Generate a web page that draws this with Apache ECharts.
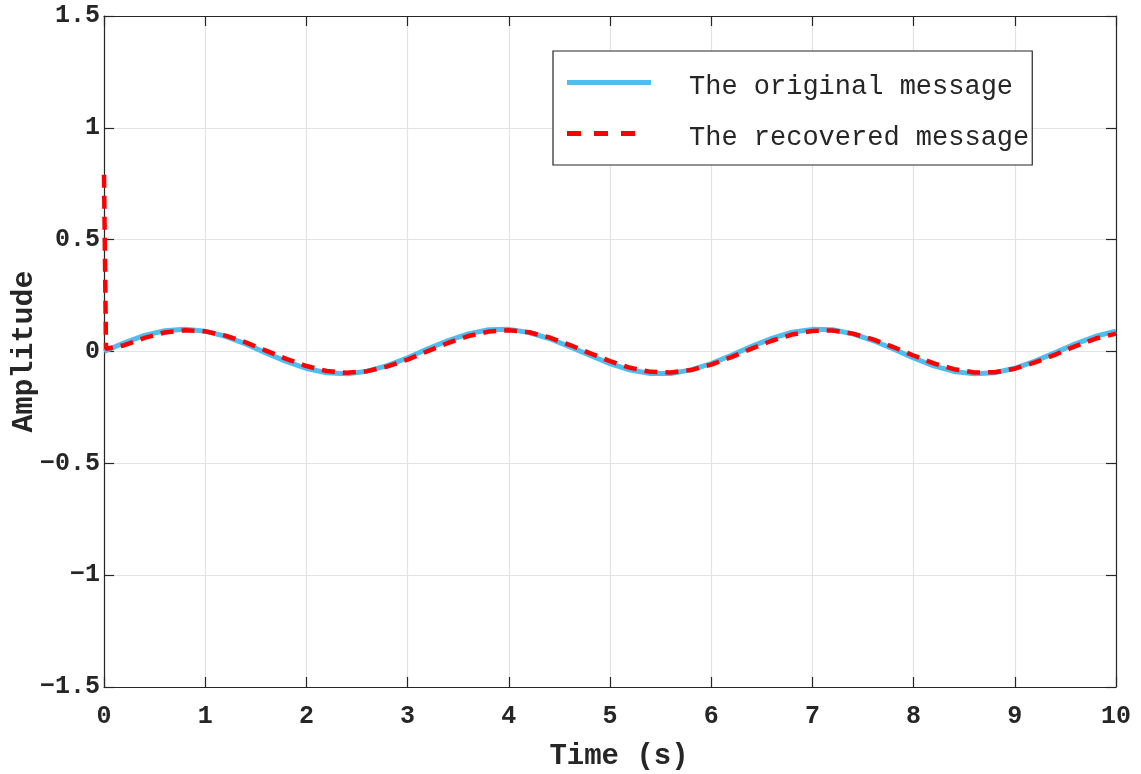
<!DOCTYPE html>
<html>
<head>
<meta charset="utf-8">
<title>Original vs recovered message</title>
<script src="https://cdn.jsdelivr.net/npm/echarts@6/dist/echarts.min.js"></script>
<style>
  html, body { margin: 0; padding: 0; background: #fff; }
  #chart { width: 1141px; height: 774px; }
</style>
</head>
<body>
<div id="chart"></div>
<script>
// Sample times (s), every 0.2 s from 0 to 10
const time = [0, 0.2, 0.4, 0.6, 0.8, 1.0, 1.2, 1.4, 1.6, 1.8, 2.0, 2.2, 2.4, 2.6, 2.8, 3.0, 3.2, 3.4, 3.6, 3.8,
  4.0, 4.2, 4.4, 4.6, 4.8, 5.0, 5.2, 5.4, 5.6, 5.8, 6.0, 6.2, 6.4, 6.6, 6.8, 7.0, 7.2, 7.4, 7.6, 7.8,
  8.0, 8.2, 8.4, 8.6, 8.8, 9.0, 9.2, 9.4, 9.6, 9.8, 10.0];

// Transmitted message amplitude at each sample time
const original = [0, 0.039, 0.072, 0.093, 0.100, 0.091, 0.068, 0.034, -0.006, -0.044, -0.076, -0.095, -0.100,
  -0.088, -0.063, -0.028, 0.012, 0.049, 0.079, 0.097, 0.099, 0.085, 0.058, 0.022, -0.017, -0.054, -0.083,
  -0.098, -0.098, -0.082, -0.054, -0.017, 0.023, 0.059, 0.086, 0.099, 0.097, 0.079, 0.049, 0.011, -0.029,
  -0.064, -0.089, -0.100, -0.095, -0.075, -0.043, -0.005, 0.034, 0.068, 0.091];

// Demodulated output: initial filter transient, then the tracked message
const recoveredTime = [0, 0.02, 0.2, 0.4, 0.6, 0.8, 1.0, 1.2, 1.4, 1.6, 1.8, 2.0, 2.2, 2.4, 2.6, 2.8, 3.0, 3.2, 3.4, 3.6, 3.8,
  4.0, 4.2, 4.4, 4.6, 4.8, 5.0, 5.2, 5.4, 5.6, 5.8, 6.0, 6.2, 6.4, 6.6, 6.8, 7.0, 7.2, 7.4, 7.6, 7.8,
  8.0, 8.2, 8.4, 8.6, 8.8, 9.0, 9.2, 9.4, 9.6, 9.8, 10.0];
const recovered = [0.79, 0.012, 0.028, 0.061, 0.085, 0.095, 0.090, 0.071, 0.041, 0.004, -0.033, -0.065, -0.087,
  -0.095, -0.088, -0.067, -0.036, 0.002, 0.038, 0.069, 0.089, 0.095, 0.086, 0.063, 0.030, -0.007, -0.043,
  -0.073, -0.091, -0.094, -0.083, -0.059, -0.025, 0.013, 0.048, 0.076, 0.092, 0.094, 0.080, 0.054, 0.020,
  -0.018, -0.053, -0.079, -0.094, -0.093, -0.077, -0.049, -0.014, 0.024, 0.058, 0.080];

const xTicks = [0, 1, 2, 3, 4, 5, 6, 7, 8, 9, 10];
const yTicks = [-1.5, -1, -0.5, 0, 0.5, 1, 1.5];

const seriesNames = ['The original message', 'The recovered message'];

const ink = '#262626';
const gridColor = '#e3e3e3';
const mono = '"Liberation Mono", "Courier New", monospace';
const tickFont = { fontFamily: mono, fontWeight: 'bold', fontSize: 25, color: ink };

function fmtTick(v) {
  return v < 0 ? '\u2212' + String(-v) : String(v);
}

const chart = echarts.init(document.getElementById('chart'), null, { renderer: 'canvas' });

// Upper and right edges of the axes box: line plus inward ticks, no labels
const boxAxis = {
  axisLine: { show: true, onZero: false, lineStyle: { color: ink, width: 1.2 } },
  axisTick: { show: true, inside: true, length: 10, lineStyle: { color: ink, width: 1.2 } },
  axisLabel: { show: false },
  splitLine: { show: false }
};

chart.setOption({
  animation: false,
  backgroundColor: '#ffffff',
  grid: { left: 104, right: 25, top: 16, bottom: 87, containLabel: false, outerBoundsMode: 'none' },
  legend: {
    data: [
      { name: seriesNames[0], icon: 'path://M0,0h84v5h-84z' },
      { name: seriesNames[1], icon: 'path://M0,0h14v5h-14z M27,0h14v5h-14z M54,0h14v5h-14z M84,0v5z' }
    ],
    orient: 'vertical',
    left: 553,
    top: 51,
    padding: [14, 3, 14, 14],
    itemWidth: 84,
    itemHeight: 5,
    itemGap: 16,
    backgroundColor: '#ffffff',
    borderColor: ink,
    borderWidth: 1.2,
    borderRadius: 0,
    itemStyle: { borderWidth: 0 },
    formatter: name => '{t|' + name + '}',
    textStyle: {
      fontFamily: mono,
      fontSize: 27,
      color: ink,
      padding: [0, 0, 0, 33],
      rich: {
        t: { fontFamily: mono, fontSize: 27, lineHeight: 27, color: ink, padding: [8, 0, 0, 0] }
      }
    }
  },
  xAxis: [
    {
      type: 'value',
      min: 0,
      max: 10,
      interval: 1,
      position: 'bottom',
      name: 'Time (s)',
      nameLocation: 'middle',
      nameGap: 55,
      nameTextStyle: { fontFamily: mono, fontWeight: 'bold', fontSize: 29, color: ink, padding: [0, 0, 0, 18] },
      axisLine: { show: true, onZero: false, lineStyle: { color: ink, width: 1.2 } },
      axisTick: { show: true, inside: true, length: 10, lineStyle: { color: ink, width: 1.2 } },
      axisLabel: Object.assign({ margin: 17, formatter: v => xTicks.includes(v) ? fmtTick(v) : '' }, tickFont),
      splitLine: { show: true, lineStyle: { color: gridColor, width: 1.2 } }
    },
    Object.assign({ type: 'value', min: 0, max: 10, interval: 1, position: 'top' }, boxAxis)
  ],
  yAxis: [
    {
      type: 'value',
      min: -1.5,
      max: 1.5,
      interval: 0.5,
      position: 'left',
      name: 'Amplitude',
      nameLocation: 'middle',
      nameGap: 65,
      nameMoveOverlap: false,
      nameTextStyle: { fontFamily: mono, fontWeight: 'bold', fontSize: 30, color: ink },
      axisLine: { show: true, onZero: false, lineStyle: { color: ink, width: 1.2 } },
      axisTick: { show: true, inside: true, length: 10, lineStyle: { color: ink, width: 1.2 } },
      axisLabel: Object.assign({ margin: 4, formatter: v => yTicks.includes(v) ? fmtTick(v) : '' }, tickFont),
      splitLine: { show: true, lineStyle: { color: gridColor, width: 1.2 } }
    },
    Object.assign({ type: 'value', min: -1.5, max: 1.5, interval: 0.5, position: 'right' }, boxAxis)
  ],
  series: [
    {
      name: seriesNames[0],
      type: 'line',
      xAxisIndex: 0,
      yAxisIndex: 0,
      data: time.map((t, i) => [t, original[i]]),
      showSymbol: false,
      symbol: 'none',
      lineStyle: { color: '#4dbeee', width: 5 },
      itemStyle: { color: '#4dbeee' },
      z: 2
    },
    {
      name: seriesNames[1],
      type: 'line',
      xAxisIndex: 0,
      yAxisIndex: 0,
      data: recoveredTime.map((t, i) => [t, recovered[i]]),
      showSymbol: false,
      symbol: 'none',
      lineStyle: { color: '#ff0000', width: 4.5, type: [13, 8] },
      itemStyle: { color: '#ff0000' },
      z: 3
    }
  ]
});
</script>
</body>
</html>
